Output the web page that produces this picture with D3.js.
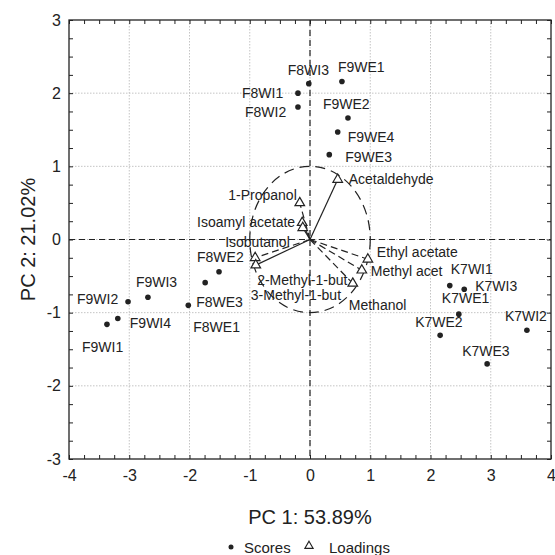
<!DOCTYPE html>
<html>
<head>
<meta charset="utf-8">
<script src="https://cdn.jsdelivr.net/npm/d3@7"></script>
<style>
  body { margin: 0; background: #fff; }
  svg text { font-family: "Liberation Sans", Arial, sans-serif; fill: #222; }
</style>
</head>
<body>
<svg id="chart" width="555" height="555"></svg>
<script>
// PCA scores (sample points)
const scoreNames = ["F8WI3","F9WE1","F8WI1","F8WI2","F9WE2","F9WE4","F9WE3",
  "F8WE2","F8WE3","F8WE1","F9WI3","F9WI2","F9WI4","F9WI1",
  "K7WI1","K7WI3","K7WE1","K7WE2","K7WI2","K7WE3"];
const scorePC1 = [-0.02, 0.53, -0.20, -0.20, 0.63, 0.46, 0.32,
  -1.51, -1.74, -2.02, -2.69, -3.02, -3.19, -3.37,
  2.32, 2.56, 2.47, 2.16, 3.60, 2.94];
const scorePC2 = [2.13, 2.16, 2.00, 1.81, 1.66, 1.47, 1.16,
  -0.44, -0.59, -0.90, -0.79, -0.85, -1.08, -1.16,
  -0.63, -0.68, -1.02, -1.31, -1.24, -1.70];

// PCA loadings (variables)
const loadNames = ["Acetaldehyde","1-Propanol","Isoamyl acetate","Isobutanol",
  "2-Methyl-1-but","3-Methyl-1-but","Ethyl acetate","Methyl acet","Methanol"];
const loadPC1 = [0.46, -0.17, -0.13, -0.12, -0.91, -0.90, 0.96, 0.86, 0.71];
const loadPC2 = [0.82, 0.50, 0.23, 0.16, -0.25, -0.35, -0.27, -0.42, -0.60];
const loadDashed = [false, true, false, false, true, false, true, true, true];

const xTicks = [-4, -3, -2, -1, 0, 1, 2, 3, 4];
const yTicks = [-3, -2, -1, 0, 1, 2, 3];

// label placement (pixels relative to the mark)
const scoreLabelOffset = {
  F8WI3: [-21, -14], F9WE1: [-4, -14], F8WI1: [-56, 0], F8WI2: [-53, 5],
  F9WE2: [-25, -14], F9WE4: [10, 5], F9WE3: [16, 2],
  F8WE2: [-22, -15], F8WE3: [-9, 19], F8WE1: [5, 22],
  F9WI3: [-12, -15], F9WI2: [-51, -3], F9WI4: [12, 5], F9WI1: [-25, 23],
  K7WI1: [1, -16], K7WI3: [11, -3], K7WE1: [-17, -16], K7WE2: [-25, -13],
  K7WI2: [-22, -14], K7WE3: [-25, -13]
};
const loadLabelOffset = [
  [11, 0, "start"], [-3, -8, "end"], [-7, -1, "end"], [-13, 14, "end"],
  [2, 22, "start"], [-5, 30, "start"], [9, -7, "start"], [9, 1, "start"], [-4, 22, "start"]
];

const svg = d3.select("#chart");
const pLeft = 69, pRight = 551, pTop = 20, pBottom = 459;

const x = d3.scaleLinear().domain([-4, 4]).range([pLeft, pRight]);
const y = d3.scaleLinear().domain([-3, 3]).range([pBottom, pTop]);

// grid
svg.append("g").selectAll("line").data(xTicks.slice(1, -1)).join("line")
  .attr("x1", d => x(d)).attr("x2", d => x(d)).attr("y1", pTop).attr("y2", pBottom)
  .attr("stroke", "#c4c4c4").attr("stroke-dasharray", "1.5,1.5");
svg.append("g").selectAll("line").data(yTicks.slice(1, -1)).join("line")
  .attr("y1", d => y(d)).attr("y2", d => y(d)).attr("x1", pLeft).attr("x2", pRight)
  .attr("stroke", "#c4c4c4").attr("stroke-dasharray", "1.5,1.5");

// minor ticks inside the frame
const xMinor = d3.range(-4, 4.001, 0.25);
const yMinor = d3.range(-3, 3.001, 0.25);
const noLabel = () => "";
function styleTicks(g) {
  g.select(".domain").remove();
  g.selectAll(".tick line").attr("stroke", "#222");
}
svg.append("g").attr("transform", `translate(0,${pBottom})`)
  .call(d3.axisBottom(x).tickValues(xMinor).tickSize(-4).tickFormat(noLabel)).call(styleTicks);
svg.append("g").attr("transform", `translate(0,${pTop})`)
  .call(d3.axisTop(x).tickValues(xMinor).tickSize(-4).tickFormat(noLabel)).call(styleTicks);
svg.append("g").attr("transform", `translate(${pLeft},0)`)
  .call(d3.axisLeft(y).tickValues(yMinor).tickSize(-4).tickFormat(noLabel)).call(styleTicks);
svg.append("g").attr("transform", `translate(${pRight},0)`)
  .call(d3.axisRight(y).tickValues(yMinor).tickSize(-4).tickFormat(noLabel)).call(styleTicks);

// tick labels
const plain = d => String(d);
const xAxis = svg.append("g").attr("transform", `translate(0,${pBottom})`)
  .call(d3.axisBottom(x).tickValues(xTicks).tickSize(0).tickPadding(11).tickFormat(plain));
xAxis.select(".domain").remove();
xAxis.selectAll("text").attr("font-size", 16);
const yAxis = svg.append("g").attr("transform", `translate(${pLeft},0)`)
  .call(d3.axisLeft(y).tickValues(yTicks).tickSize(0).tickPadding(8).tickFormat(plain));
yAxis.select(".domain").remove();
yAxis.selectAll("text").attr("font-size", 16);

// zero lines
svg.append("line").attr("x1", x(0)).attr("x2", x(0)).attr("y1", pTop).attr("y2", pBottom)
  .attr("stroke", "#222").attr("stroke-width", 1.2).attr("stroke-dasharray", "6,4");
svg.append("line").attr("x1", pLeft).attr("x2", pRight).attr("y1", y(0)).attr("y2", y(0))
  .attr("stroke", "#222").attr("stroke-width", 1.2).attr("stroke-dasharray", "6,4");

// frame
svg.append("rect").attr("x", pLeft).attr("y", pTop)
  .attr("width", pRight - pLeft).attr("height", pBottom - pTop)
  .attr("fill", "none").attr("stroke", "#222").attr("stroke-width", 1.3);

// unit circle of loadings
svg.append("ellipse").attr("cx", x(0)).attr("cy", y(0))
  .attr("rx", x(1) - x(0)).attr("ry", y(0) - y(1))
  .attr("fill", "none").attr("stroke", "#222").attr("stroke-width", 1.2)
  .attr("stroke-dasharray", "10,6");

// loadings
const loadings = loadNames.map((n, i) => ({ name: n, pc1: loadPC1[i], pc2: loadPC2[i], dashed: loadDashed[i], off: loadLabelOffset[i] }));
svg.append("g").selectAll("line").data(loadings).join("line")
  .attr("x1", x(0)).attr("y1", y(0))
  .attr("x2", d => x(d.pc1)).attr("y2", d => y(d.pc2))
  .attr("stroke", "#222").attr("stroke-width", 1.2)
  .attr("stroke-dasharray", d => d.dashed ? "7,4" : null);
const tri = d3.symbol().type(d3.symbolTriangle).size(40);
svg.append("g").selectAll("path").data(loadings).join("path")
  .attr("d", tri)
  .attr("transform", d => `translate(${x(d.pc1)},${y(d.pc2)})`)
  .attr("fill", "#fff").attr("stroke", "#222").attr("stroke-width", 1.2);
svg.append("g").selectAll("text").data(loadings).join("text")
  .attr("x", d => x(d.pc1) + d.off[0]).attr("y", d => y(d.pc2) + d.off[1])
  .attr("dy", "0.35em").attr("text-anchor", d => d.off[2])
  .attr("font-size", 14).text(d => d.name);

// scores
const scores = scoreNames.map((n, i) => ({ name: n, pc1: scorePC1[i], pc2: scorePC2[i] }));
svg.append("g").selectAll("circle").data(scores).join("circle")
  .attr("cx", d => x(d.pc1)).attr("cy", d => y(d.pc2)).attr("r", 2.8)
  .attr("fill", "#222");
svg.append("g").selectAll("text").data(scores).join("text")
  .attr("x", d => x(d.pc1) + scoreLabelOffset[d.name][0])
  .attr("y", d => y(d.pc2) + scoreLabelOffset[d.name][1])
  .attr("dy", "0.35em").attr("font-size", 14).text(d => d.name);

// axis titles
svg.append("text").attr("x", x(0)).attr("y", 524).attr("text-anchor", "middle")
  .attr("font-size", 20).text("PC 1: 53.89%");
svg.append("text").attr("transform", `translate(35,${(pTop + pBottom) / 2}) rotate(-90)`)
  .attr("text-anchor", "middle").attr("font-size", 20).text("PC 2: 21.02%");

// legend
const leg = svg.append("g");
leg.append("circle").attr("cx", 231).attr("cy", 547).attr("r", 2.5).attr("fill", "#222");
leg.append("text").attr("x", 244).attr("y", 553).attr("font-size", 15).text("Scores");
leg.append("path").attr("d", d3.symbol().type(d3.symbolTriangle).size(30))
  .attr("transform", "translate(309,546)").attr("fill", "#fff").attr("stroke", "#222").attr("stroke-width", 1.1);
leg.append("text").attr("x", 329).attr("y", 553).attr("font-size", 15).text("Loadings");
</script>
</body>
</html>
